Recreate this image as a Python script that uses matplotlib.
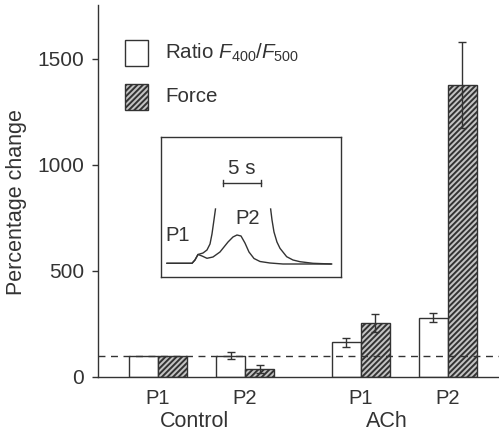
import numpy as np
import matplotlib
matplotlib.use("Agg")
import matplotlib.pyplot as plt
from matplotlib.patches import Rectangle

plt.rcParams['font.family'] = ['Liberation Sans', 'DejaVu Sans']
plt.rcParams['mathtext.fontset'] = 'custom'
plt.rcParams['mathtext.rm'] = 'Liberation Sans'
plt.rcParams['mathtext.it'] = 'Liberation Sans:italic'
plt.rcParams['hatch.linewidth'] = 1.4
plt.rcParams['hatch.color'] = '#3a3a3a'

INK = '#333333'
HFACE = '#c4c4c4'

# ---- data ----
tick_labels = ['P1', 'P2', 'P1', 'P2']
groups = ['Control', 'ACh']
ratio_vals = [100, 100, 163, 280]
ratio_err = [0, 17, 22, 21]
force_vals = [100, 38, 256, 1375]
force_err = [0, 18, 43, 202]
baseline = 100

# inset traces (time in s, amplitude arbitrary)
ratio_t = [0, 3.29, 3.68, 4.08, 4.61, 5.26, 6.05, 6.97, 8.03, 8.68, 9.21, 9.74,
           10.26, 10.79, 11.45, 12.24, 13.55, 15.26, 21.58]
ratio_a = [0, 0, 3.3, 8.8, 7.3, 5.0, 6.3, 11.3, 21.3, 26.3, 28.3, 27.3,
           20.3, 11.3, 4.8, 1.8, 0.3, -0.7, -0.7]
force_t = [0, 3.29, 3.68, 4.08, 4.74, 5.26, 5.66, 5.92, 6.18, 6.38, np.nan,
           13.64, 13.82, 14.08, 14.47, 14.87, 15.75, 16.58, 17.50, 19.21, 21.67]
force_a = [0, 0, 3.3, 8.8, 10.3, 13.3, 19.3, 29.3, 43.3, 54.3, np.nan,
           54.3, 43.3, 31.3, 21.3, 15.0, 6.6, 3.3, 1.6, 0, -0.7]
scale_len = 5

# ---- figure ----
W, H = 499, 432
fig = plt.figure(figsize=(W/100, H/100), dpi=100)
ax = fig.add_axes([98/W, (H-377)/H, (W-98)/W, (377-5)/H])

centers = np.array([2, 5, 9, 12])
bw = 1.0
ax.bar(centers - bw/2, ratio_vals, width=bw, color='white', edgecolor=INK, linewidth=1.0, zorder=2)
ax.bar(centers + bw/2, force_vals, width=bw, color=HFACE, edgecolor=INK, linewidth=1.0,
       hatch='//////', zorder=2)
for xs, v, e in [(centers - bw/2, ratio_vals, ratio_err), (centers + bw/2, force_vals, force_err)]:
    for x, vv, ee in zip(xs, v, e):
        if ee > 0:
            ax.errorbar(x, vv, yerr=ee, fmt='none', ecolor=INK, elinewidth=1.0, capsize=3,
                        capthick=1.0, zorder=4)

ax.axhline(baseline, color=INK, linestyle=(0, (5, 4)), linewidth=1.0, zorder=3)

ax.set_xlim(-0.07, 13.76)
ax.set_ylim(0, 1752)
ax.set_yticks([0, 500, 1000, 1500])
ax.set_xticks(centers)
ax.set_xticklabels(tick_labels)
ax.tick_params(axis='x', length=0, pad=9, labelsize=14.5, colors=INK)
ax.tick_params(axis='y', length=4, width=1.0, pad=6, labelsize=15, colors=INK, direction='out')
for s in ['top', 'right']:
    ax.spines[s].set_visible(False)
for s in ['left', 'bottom']:
    ax.spines[s].set_color(INK)
    ax.spines[s].set_linewidth(1.0)
ax.set_ylabel('Percentage change', fontsize=15.5, color=INK)
ax.yaxis.set_label_coords(-0.176, 0.47)

trans = ax.get_xaxis_transform()
ax.text(3.25, -0.12, groups[0], transform=trans, ha='center', va='center', fontsize=15.5, color=INK)
ax.text(9.9, -0.12, groups[1], transform=trans, ha='center', va='center', fontsize=15.5, color=INK)

# legend (manual)
fig.add_artist(Rectangle((125/W, (H-66)/H), 23/W, 26/H, transform=fig.transFigure,
                         facecolor='white', edgecolor=INK, linewidth=1.0))
fig.add_artist(Rectangle((125/W, (H-110)/H), 23/W, 26/H, transform=fig.transFigure,
                         facecolor=HFACE, edgecolor=INK, linewidth=1.0, hatch='//////'))
fig.text(165/W, (H-53)/H, 'Ratio $F_{\\mathrm{400}}/F_{\\mathrm{500}}$', fontsize=14.8, color=INK,
         ha='left', va='center')
fig.text(165/W, (H-97)/H, 'Force', fontsize=14.8, color=INK, ha='left', va='center')

# inset
iax = fig.add_axes([161/W, (H-277)/H, 180/W, 140/H])
iax.plot(ratio_t, ratio_a, color=INK, linewidth=1.0)
iax.plot(force_t, force_a, color=INK, linewidth=1.0)
iax.set_xlim(-0.79, 22.9)
iax.set_ylim(-13.7, 126.3)
iax.set_xticks([])
iax.set_yticks([])
for s in iax.spines.values():
    s.set_color(INK)
    s.set_linewidth(1.0)
sb0 = 7.37
iax.plot([sb0, sb0 + scale_len], [80.3, 80.3], color=INK, linewidth=1.0)
iax.plot([sb0, sb0], [77.5, 83.1], color=INK, linewidth=1.0)
iax.plot([sb0 + scale_len, sb0 + scale_len], [77.5, 83.1], color=INK, linewidth=1.0)
iax.text(sb0 + scale_len/2, 95, '5 s', ha='center', va='center', fontsize=14.8, color=INK)
iax.text(1.45, 28, 'P1', ha='center', va='center', fontsize=14.5, color=INK)
iax.text(10.66, 45, 'P2', ha='center', va='center', fontsize=14.5, color=INK)

fig.savefig('out.png', dpi=100)
